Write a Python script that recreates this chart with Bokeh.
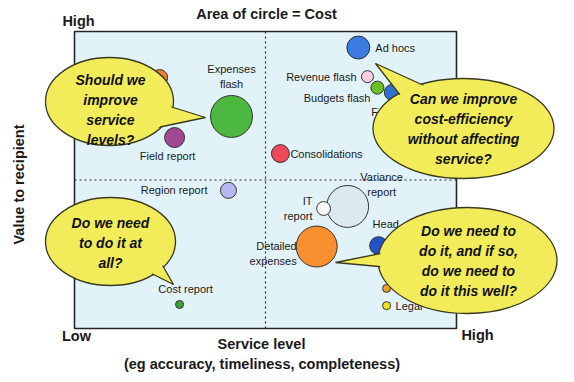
import numpy as np
from bokeh.plotting import figure
from bokeh.models import Range1d
from bokeh.core.properties import value
from bokeh.embed import file_html
from bokeh.resources import INLINE

# ---------------- data ----------------
labels = ["Ad hocs", "Revenue flash", "Budgets flash", "Forecasts", "Consolidations",
          "Expenses\nflash", "Field report", "", "Region report", "Cost report",
          "Variance\nreport", "IT\nreport", "Detailed\nexpenses", "Head", "", "Legal"]
service_level = [74.3, 76.7, 79.3, 83.2, 53.9, 41.1, 26.2, 22.3, 40.3, 27.5,
                 71.5, 65.2, 63.4, 79.6, 81.7, 81.7]
value_to_recipient = [94.6, 84.8, 81.1, 79.5, 58.9, 71.4, 64.3, 84.5, 46.5, 8.1,
                      41.1, 40.4, 27.6, 27.9, 13.5, 7.7]
cost = [33, 9, 10.5, 16, 20, 110, 25, 16, 16, 4, 110, 12, 105, 20, 4, 4]
colors = ["#3b7be0", "#f8cde0", "#6cc022", "#3070d0", "#f04858", "#4cb840", "#a04890",
          "#f08030", "#b8b8f0", "#40a040", "#dde9f1", "#f6f9fb", "#f89030", "#2452c8",
          "#f0a020", "#f0e020"]

# label placement (screen px offsets from the circle centre, alignment)
label_dx = [17, -11, -7, -21, 10, 0, -7, 0, -21, 6, 34, -11, -20, -6, 0, 9]
label_dy = [0, 0, 10, 20, 0, -40, 18, 0, 0, -15, -22, 0, 7, -22, 0, 0]
label_align = ["left", "right", "right", "left", "left", "center", "center", "center",
               "right", "center", "center", "right", "right", "left", "center", "left"]

# ---------------- layout ----------------
W, H = 574, 382
BOX_L, BOX_R, BOX_T, BOX_B = 74, 456, 31, 328
sx = (BOX_R - BOX_L) / 100.0
sy = (BOX_B - BOX_T) / 100.0


def dx(px):
    return (px - BOX_L) / sx


def dy(py):
    return (BOX_B - py) / sy


p = figure(width=W, height=H, x_range=Range1d(-BOX_L / sx, (W - BOX_L) / sx),
           y_range=Range1d((BOX_B - H) / sy, BOX_B / sy),
           min_border=0, toolbar_location=None, output_backend="svg",
           x_axis_location=None, y_axis_location=None, outline_line_color=None,
           background_fill_color="white", border_fill_color="white")
p.grid.visible = False

FONT = value("Liberation Sans")
INK = "#1a1a1a"

# box
p.quad(left=0, right=100, bottom=0, top=100, fill_color="#e2f2f9",
       line_color="#262626", line_width=1.6)
p.segment(x0=[50, 0], y0=[0, 50], x1=[50, 100], y1=[100, 50],
          line_color="#2a2a2a", line_width=1.2, line_dash="2 3")

# circles (area = cost)
sizes = [4 * np.sqrt(c) for c in cost]
p.scatter(x=service_level, y=value_to_recipient, size=sizes, fill_color=colors,
          line_color="#333333", line_width=1)

# labels
for lab, x, y, ox, oy, al in zip(labels, service_level, value_to_recipient,
                                 label_dx, label_dy, label_align):
    if not lab:
        continue
    p.text(x=[x + ox / sx], y=[y - oy / sy], text=[lab], text_font=FONT,
           text_font_size="11px", text_color=INK, text_align=al,
           text_baseline="middle", text_line_height=1.2)

# callouts
BUB_FILL = "#f2ec5a"
BUB_LINE = "#3a3a20"
callouts = [
    dict(c=(109, 101), w=128, h=88, tail=[(163, 104), (205, 117), (157, 127)],
         text="Should we\nimprove\nservice\nlevels?", t=(110, 109.5)),
    dict(c=(463, 128), w=181, h=100, tail=[(400, 95), (375, 63), (430, 88)],
         text="Can we improve\ncost-efficiency\nwithout affecting\nservice?", t=(463, 128)),
    dict(c=(110, 241), w=130, h=88, tail=[(145, 270), (173, 284), (158, 258)],
         text="Do we need\nto do it at\nall?", t=(110, 242.5)),
    dict(c=(467, 260), w=179, h=106, tail=[(400, 249), (335, 262), (400, 268)],
         text="Do we need to\ndo it, and if so,\ndo we need to\ndo it this well?", t=(468, 260.5)),
]
for cb in callouts:
    cx, cy = dx(cb["c"][0]), dy(cb["c"][1])
    p.ellipse(x=[cx], y=[cy], width=[cb["w"]], height=[cb["h"]],
              width_units="screen", height_units="screen",
              fill_color=BUB_FILL, line_color=BUB_LINE, line_width=1.3)
    tx = [dx(a) for a, b in cb["tail"]]
    ty = [dy(b) for a, b in cb["tail"]]
    p.patch(x=tx, y=ty, fill_color=BUB_FILL, line_color=BUB_LINE, line_width=1.3)
    p.ellipse(x=[cx], y=[cy], width=[cb["w"] - 3], height=[cb["h"] - 3],
              width_units="screen", height_units="screen",
              fill_color=BUB_FILL, line_color=None)
    p.text(x=[dx(cb["t"][0])], y=[dy(cb["t"][1])], text=[cb["text"]], text_font=FONT,
           text_font_size="14px", text_font_style="bold italic", text_color="#111111",
           text_align="center", text_baseline="middle", text_line_height=1.25)

# outer texts
outer = [
    ("High", 78, 20, 0),
    ("Area of circle = Cost", 266, 13, 0),
    ("Low", 76, 335, 0),
    ("High", 477, 334, 0),
    ("Service level", 261, 343, 0),
    ("(eg accuracy, timeliness, completeness)", 261.5, 363, 0),
    ("Value to recipient", 18, 184, np.pi / 2),
]
for t, x, y, a in outer:
    p.text(x=[dx(x)], y=[dy(y)], text=[t], angle=a, text_font=FONT,
           text_font_size="14.5px", text_font_style="bold", text_color=INK,
           text_align="center", text_baseline="middle")

open("out.html", "w").write(file_html(p, INLINE))
